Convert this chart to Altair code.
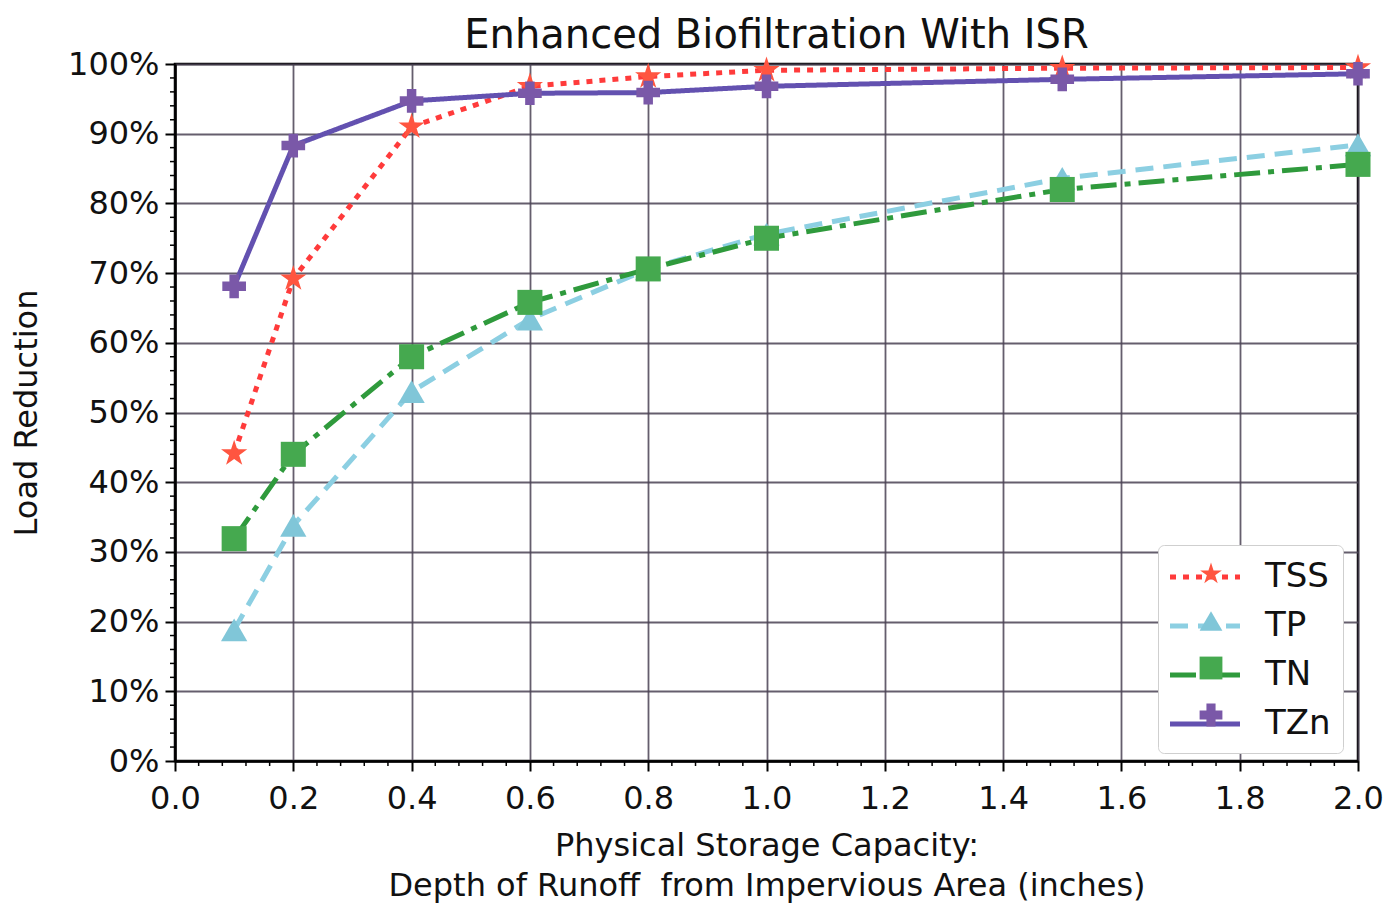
import altair as alt
import pandas as pd

# ---- data ----
depth = [0.1, 0.2, 0.4, 0.6, 0.8, 1.0, 1.5, 2.0]
series_names = ["TSS", "TP", "TN", "TZn"]
tss = [44.1, 69.2, 91.0, 96.8, 98.2, 99.1, 99.4, 99.5]
tp = [18.8, 33.8, 53.0, 63.4, 70.6, 75.6, 83.6, 88.4]
tn = [31.9, 44.0, 58.0, 65.8, 70.6, 75.0, 82.0, 85.6]
tzn = [68.1, 88.3, 94.7, 95.8, 95.9, 96.8, 97.8, 98.6]

x_ticks = [0.0, 0.2, 0.4, 0.6, 0.8, 1.0, 1.2, 1.4, 1.6, 1.8, 2.0]
y_ticks = [0, 10, 20, 30, 40, 50, 60, 70, 80, 90, 100]
x_minor = [i * 0.04 for i in range(51) if i % 5 != 0]
y_minor = [i * 2 for i in range(51) if i % 5 != 0]

line_colors = ["#ff3b3b", "#8ccfe2", "#2f9a3c", "#6351b0"]
marker_colors = ["#ff5540", "#80c6d8", "#45a94f", "#7a58a8"]
STAR = ("M0,-1L0.2245,-0.309L0.951,-0.309L0.363,0.118L0.588,0.809L0,0.382"
        "L-0.588,0.809L-0.363,0.118L-0.951,-0.309L-0.2245,-0.309Z")
shapes = [STAR, "triangle-up", "square", "cross"]
marker_sizes = [760, 560, 600, 560]
dashes = [[6, 7], [18, 10], [26, 8, 6, 8], [1, 0]]

# separate keys so that Vega-Lite keeps the marker legend apart from the line legend
marker_keys = [n + "\u200b" for n in series_names]
size_keys = [n + "\u200c" for n in series_names]

rows = []
for name, key, skey, vals in zip(series_names, marker_keys, size_keys, [tss, tp, tn, tzn]):
    for d, v in zip(depth, vals):
        rows.append({"depth": d, "value": v, "series": name, "marker": key, "msize": skey})
df = pd.DataFrame(rows)

W, H = 1183, 697
FONT = "DejaVu Sans"

xscale = alt.Scale(domain=[0, 2], nice=False)
yscale = alt.Scale(domain=[0, 100], nice=False)

leg_common = dict(
    orient="none", legendX=983, legendY=481, padding=12,
    labelFontSize=34, labelFont=FONT, labelColor="#111",
)

x_enc = alt.X("depth:Q", scale=xscale,
              axis=alt.Axis(values=x_ticks, format=".1f", labelFlush=False,
                            title=["Physical Storage Capacity:",
                                   "Depth of Runoff\u00a0 from Impervious Area (inches)"]))
y_enc = alt.Y("value:Q", scale=yscale,
              axis=alt.Axis(values=y_ticks, labelExpr="datum.value + '%'", title="Load Reduction"))

line_leg = alt.Legend(symbolType="M-2,0L2,0", symbolSize=1225, symbolStrokeWidth=5,
                      symbolOffset=15, labelOffset=40, rowPadding=12,
                      fillColor="white", strokeColor="#cfcfcf", cornerRadius=6, zindex=1,
                      **leg_common)
shape_leg = alt.Legend(symbolSize=520, symbolOffset=24, labelOffset=57, rowPadding=13,
                       symbolStrokeWidth=0, labelExpr="''", zindex=2, **leg_common)

lines = alt.Chart(df).mark_line(strokeWidth=5, strokeCap="butt", clip=False).encode(
    x=x_enc, y=y_enc,
    stroke=alt.Stroke("series:N", sort=series_names, title=None,
                      scale=alt.Scale(domain=series_names, range=line_colors), legend=line_leg),
    strokeDash=alt.StrokeDash("series:N", sort=series_names, title=None,
                              scale=alt.Scale(domain=series_names, range=dashes), legend=line_leg),
)

points = alt.Chart(df).mark_point(filled=True, opacity=1, strokeWidth=0, clip=False).encode(
    x=alt.X("depth:Q", scale=xscale),
    y=alt.Y("value:Q", scale=yscale),
    fill=alt.Fill("marker:N", sort=marker_keys, title=None,
                  scale=alt.Scale(domain=marker_keys, range=marker_colors), legend=shape_leg),
    shape=alt.Shape("marker:N", sort=marker_keys, title=None,
                    scale=alt.Scale(domain=marker_keys, range=shapes), legend=shape_leg),
    size=alt.Size("msize:N", sort=size_keys,
                  scale=alt.Scale(domain=size_keys, range=marker_sizes), legend=None),
)

xminor = alt.Chart(pd.DataFrame({"m": x_minor})).mark_rule(color="black", strokeWidth=1.5).encode(
    x=alt.X("m:Q", scale=xscale), y=alt.value(H), y2=alt.value(H + 5))
yminor = alt.Chart(pd.DataFrame({"m": y_minor})).mark_rule(color="black", strokeWidth=1.5).encode(
    y=alt.Y("m:Q", scale=yscale), x=alt.value(-5), x2=alt.value(0))

chart = alt.layer(lines, points, xminor, yminor).properties(
    width=W, height=H,
    title=alt.TitleParams("Enhanced Biofiltration With ISR", fontSize=40, font=FONT,
                          fontWeight="normal", color="#111", offset=-8, dx=10),
    autosize=alt.AutoSizeParams(type="none"),
    padding={"left": 167, "top": 56, "right": 32, "bottom": 142},
).configure_view(
    stroke="black", strokeWidth=2.5,
).configure_axis(
    labelFont=FONT, titleFont=FONT, labelFontSize=32, titleFontSize=32,
    labelColor="#111", titleColor="#111", titleFontWeight="normal",
    grid=True, gridColor="#4a4254", gridWidth=1.8, gridOpacity=0.85,
    domainColor="black", domainWidth=2.5, tickColor="black", tickSize=10, tickWidth=2,
).configure_axisX(
    labelPadding=12, titlePadding=16, titleLineHeight=40,
).configure_axisY(
    labelPadding=6, titlePadding=24,
)

chart.save("out.html", embed_options={"renderer": "svg", "actions": False})
